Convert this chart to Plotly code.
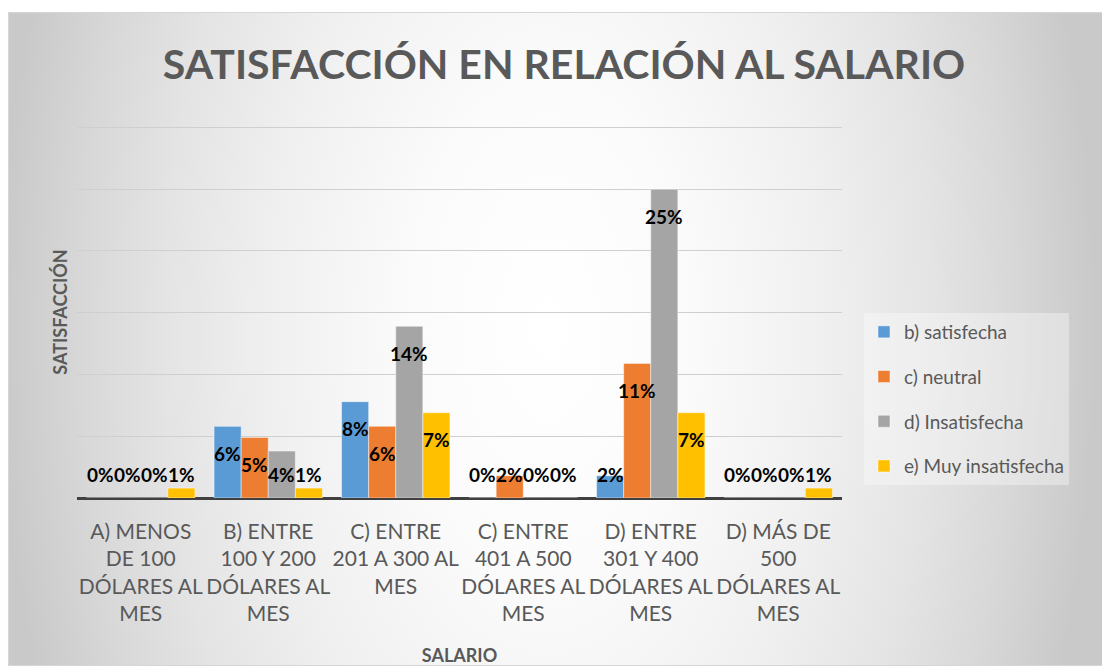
import base64
import plotly.graph_objects as go

categories = [
    "A) MENOS<br>DE 100<br>DÓLARES AL<br>MES",
    "B) ENTRE<br>100 Y 200<br>DÓLARES AL<br>MES",
    "C) ENTRE<br>201 A 300 AL<br>MES",
    "C) ENTRE<br>401 A 500<br>DÓLARES AL<br>MES",
    "D) ENTRE<br>301 Y 400<br>DÓLARES AL<br>MES",
    "D) MÁS DE<br>500<br>DÓLARES AL<br>MES",
]
series_names = ["b) satisfecha", "c) neutral", "d) Insatisfecha", "e) Muy insatisfecha"]
satisfecha = [0.0, 0.058, 0.078, 0.0, 0.018, 0.0]
neutral = [0.0, 0.049, 0.058, 0.018, 0.109, 0.0]
insatisfecha = [0.0, 0.038, 0.139, 0.0, 0.25, 0.0]
muy_insatisfecha = [0.008, 0.008, 0.069, 0.0, 0.069, 0.008]
series_values = [satisfecha, neutral, insatisfecha, muy_insatisfecha]
colors = ["#5B9BD5", "#ED7D31", "#A5A5A5", "#FFC000"]

# page has an 8px body margin, so the figure is 8px smaller than the window
W, H = 1102, 658
L, R, T, B = 69, 268, 118, 168
pw, ph = W - L - R, H - T - B

fig = go.Figure()
for name, vals, col in zip(series_names, series_values, colors):
    fig.add_trace(go.Bar(
        x=list(range(len(categories))), y=vals, name=name, legendgroup=name,
        marker=dict(color=col, line=dict(color="rgba(255,255,255,0.45)", width=1)),
        hoverinfo="skip",
    ))

# data labels (computed from values)
bargap = 0.15
n = len(series_values)
bw = (1 - bargap) / n
ymax = 0.30
px_per_unit = ph / ymax
inside = 27 / px_per_unit
floor = 24 / px_per_unit
annotations = []
for k, vals in enumerate(series_values):
    off = -((1 - bargap) / 2) + bw * (k + 0.5)
    for i, v in enumerate(vals):
        annotations.append(dict(
            x=i + off, y=max(v - inside, floor), xref="x", yref="y",
            text=f"<b>{round(v * 100):.0f}%</b>", showarrow=False,
            font=dict(family="Lato", size=19, color="#000000"),
            xanchor="center", yanchor="middle",
        ))

IMG_W, IMG_H = 1102, 654
svg = (
    f"<svg xmlns='http://www.w3.org/2000/svg' width='{IMG_W}' height='{IMG_H}' viewBox='0 0 {IMG_W} {IMG_H}' preserveAspectRatio='none'>"
    "<defs><radialGradient id='g' gradientUnits='userSpaceOnUse' cx='540' cy='318' r='548' "
    "gradientTransform='translate(540 318) scale(1 1.8) translate(-540 -318)'>"
    "<stop offset='0' stop-color='#ffffff'/>"
    "<stop offset='0.25' stop-color='#fbfbfb'/>"
    "<stop offset='0.5' stop-color='#f0f0f0'/>"
    "<stop offset='0.7' stop-color='#e4e4e4'/>"
    "<stop offset='0.85' stop-color='#d8d8d8'/>"
    "<stop offset='1' stop-color='#c9c9c9'/>"
    "</radialGradient></defs>"
    f"<rect x='0.5' y='0.5' width='{IMG_W - 1}' height='{IMG_H - 1}' fill='url(#g)' stroke='#d6d6d6' stroke-width='1'/></svg>"
)
src = "data:image/svg+xml;base64," + base64.b64encode(svg.encode()).decode()

fig.update_layout(
    width=W, height=H,
    margin=dict(l=L, r=R, t=T, b=B, pad=0, autoexpand=False),
    paper_bgcolor="white", plot_bgcolor="rgba(0,0,0,0)",
    barmode="group", bargap=bargap, bargroupgap=0,
    font=dict(family="Lato", color="#595959"),
    title=dict(text="<b>SATISFACCIÓN EN RELACIÓN AL SALARIO</b>",
               x=556 / W, xanchor="center", xref="container",
               y=1 - 57 / H, yanchor="middle", yref="container",
               font=dict(family="Lato", size=41, color="#595959")),
    images=[dict(source=src, xref="paper", yref="paper",
                 x=(0 - L) / pw, y=(H - B - 4) / ph,
                 sizex=IMG_W / pw, sizey=IMG_H / ph,
                 xanchor="left", yanchor="top", sizing="stretch", layer="below")],
    legend=dict(xref="container", yref="container", x=856 / W, y=1 - 391 / H,
                xanchor="left", yanchor="middle",
                bgcolor="rgba(255,255,255,0.35)",
                font=dict(family="Lato", size=19, color="#595959"),
                tracegroupgap=17, itemwidth=30),
    annotations=annotations,
    showlegend=True,
)
fig.update_xaxes(
    tickmode="array", tickvals=list(range(len(categories))), ticktext=categories,
    range=[-0.5, len(categories) - 0.5], automargin=False,
    tickfont=dict(family="Lato", size=21, color="#595959"),
    ticks="", ticklabelstandoff=19, showgrid=False, showline=False, zeroline=False,
    title=dict(text="<b>SALARIO</b>", font=dict(family="Lato", size=18, color="#595959"), standoff=26),
)
fig.update_yaxes(
    range=[0, ymax * 1.004], dtick=0.05, showticklabels=False, automargin=False,
    showgrid=True, gridcolor="#cfcfcf", gridwidth=1,
    zeroline=True, zerolinecolor="#404040", zerolinewidth=3,
    title=dict(text="<b>SATISFACCIÓN</b>", font=dict(family="Lato", size=18, color="#595959"), standoff=3),
)

fig.write_html("out.html")
